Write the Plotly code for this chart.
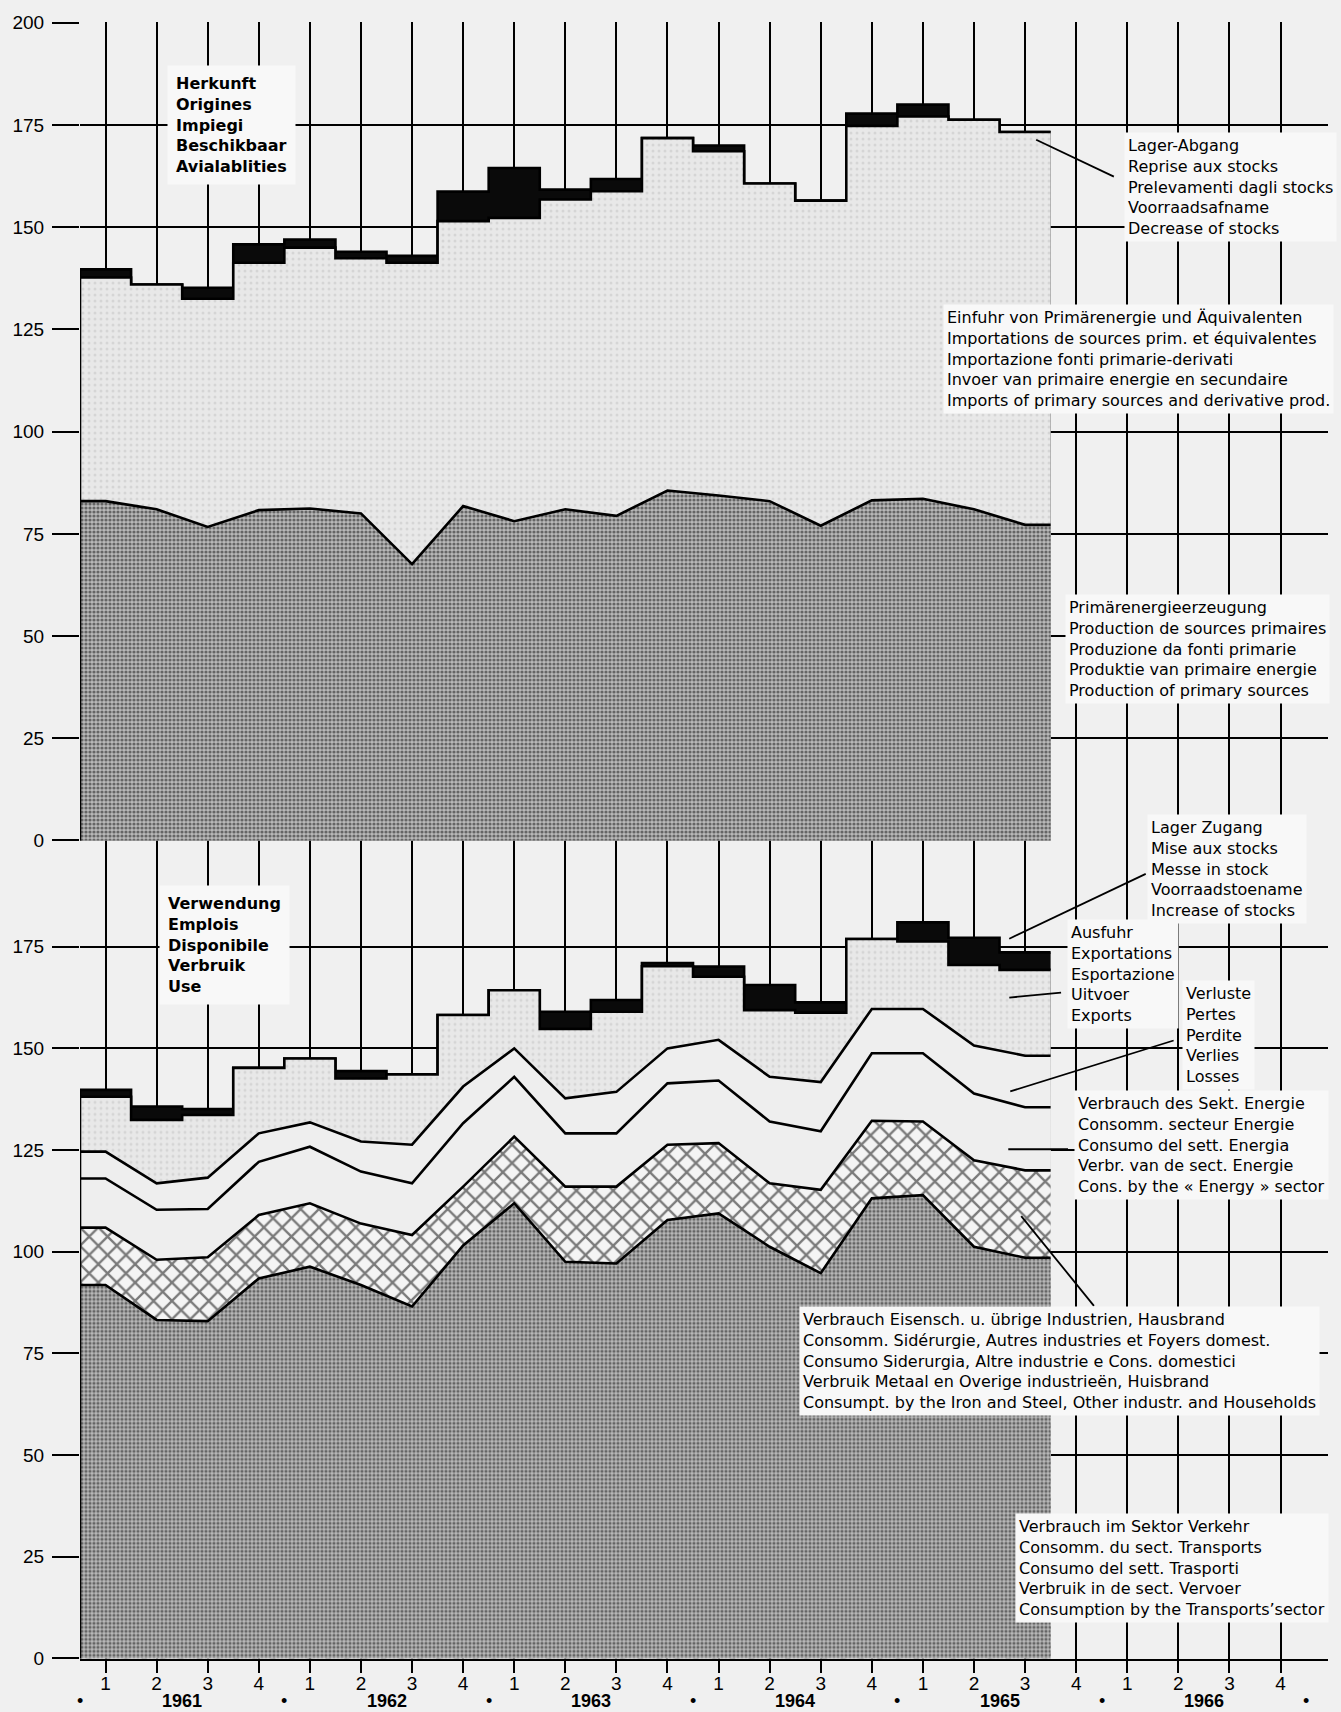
import numpy as np
import plotly.graph_objects as go

# ---------------- data (per quarter, 1961 Q1 .. 1965 Q3) ----------------
quarters = [f"{y} Q{q}" for y in range(1961, 1966) for q in range(1, 5)][:19]

# Top panel: Herkunft / Availabilities
production = [83.0, 81.0, 76.7, 80.8, 81.2, 80.0, 67.6, 81.8, 78.1, 81.0,
              79.4, 85.6, 84.4, 83.0, 77.0, 83.2, 83.6, 81.0, 77.2]
imports = [54.7, 55.0, 55.8, 60.5, 63.8, 62.4, 73.7, 69.7, 74.2, 75.8,
           79.4, 86.2, 84.2, 77.7, 79.5, 91.6, 93.5, 95.3, 96.1]
stock_decrease = [2.0, 0.0, 2.7, 4.5, 2.0, 1.6, 1.7, 7.2, 12.2, 2.4,
                  3.0, 0.0, 1.4, 0.0, 0.0, 3.0, 2.9, 0.0, 0.0]

# Bottom panel: Verwendung / Use
transport = [91.8, 83.2, 82.9, 93.4, 96.3, 91.8, 86.5, 101.5, 111.9, 97.5,
             97.1, 107.8, 109.4, 101.2, 94.7, 113.1, 113.9, 101.2, 98.5]
industry = [14.1, 14.8, 15.7, 15.6, 15.6, 15.1, 17.6, 14.5, 16.4, 18.5,
            18.9, 18.5, 17.3, 15.6, 20.5, 19.1, 18.1, 21.3, 21.5]
energy_sector = [12.1, 12.3, 11.9, 13.1, 13.9, 12.8, 12.7, 15.6, 14.7, 13.1,
                 13.1, 15.1, 15.4, 15.2, 14.4, 16.6, 16.8, 16.4, 15.5]
losses = [6.6, 6.5, 7.7, 7.0, 6.0, 7.4, 9.5, 9.0, 7.0, 8.6,
          10.2, 8.6, 10.0, 11.0, 12.1, 10.9, 10.9, 11.8, 12.7]
exports = [13.5, 15.6, 15.4, 16.1, 15.7, 15.5, 17.3, 17.6, 14.3, 17.1,
           19.7, 20.2, 15.5, 16.4, 17.1, 17.2, 16.6, 19.8, 21.1]
stock_increase = [1.7, 3.3, 1.5, 0.0, 0.0, 1.8, 0.0, 0.0, 0.0, 4.2,
                  2.9, 0.8, 2.5, 6.2, 2.5, 0.0, 4.7, 6.7, 4.3]

quarter_ticks = ["1", "2", "3", "4"] * 6
years = ["1961", "1962", "1963", "1964", "1965", "1966"]
y_ticks = [0, 25, 50, 75, 100, 125, 150, 175, 200]

# ---------------- geometry helpers ----------------
W, H = 1341, 1712
L, R, T, B = 75, 13, 18, 53
PW, PH = W - L - R, H - T - B
Y_SPLIT = 839.3                      # pixel row where the two panels meet
dom_split = (H - B - Y_SPLIT) / PH
bottom_top = -0.2 + (H - B - Y_SPLIT) / ((H - B - 0.8 - 945) / 175.0)


def px(x):
    return (x - L) / PW


def py(y):
    return (H - B - y) / PH


n = len(quarters)
centres = [i + 0.5 for i in range(n)]


def line_path(vals):
    xs = [0, 0] + centres + [n]
    ys = [0, vals[0]] + list(vals) + [vals[-1]]
    return xs, ys


def step_path(vals):
    xs = [0] + list(range(n + 1))
    ys = [0] + list(vals) + [vals[-1]]
    return xs, ys


BG = "#f0f0f0"
BOX = "#f8f8f8"
LW = 2.6
dark_pat = dict(shape=".", bgcolor="#b8b8b8", fgcolor="#111111", size=4, solidity=0.5)
light_pat = dict(shape=".", bgcolor="#e8e8e8", fgcolor="#c2c2c2", size=6, solidity=0.2)
cross_pat = dict(shape="x", bgcolor="#f4f4f4", fgcolor="#000000", size=13, solidity=0.32)

fig = go.Figure()


def add(xs, ys, shape, yaxis, xaxis, fillcolor=None, pattern=None):
    kw = dict(x=xs, y=ys, mode="lines", line=dict(color="black", width=LW, shape=shape),
              fill="tozeroy", xaxis=xaxis, yaxis=yaxis, showlegend=False, hoverinfo="skip")
    if pattern is not None:
        kw["fillpattern"] = pattern
        kw["fillcolor"] = pattern["bgcolor"]
    else:
        kw["fillcolor"] = fillcolor
    fig.add_trace(go.Scatter(**kw))


# ---- top panel ----
prod = np.array(production)
lvl_imp = prod + np.array(imports)
lvl_tot = lvl_imp + np.array(stock_decrease)
add(*step_path(lvl_tot), "hv", "y2", "x2", fillcolor="#0a0a0a")
add(*step_path(lvl_imp), "hv", "y2", "x2", pattern=light_pat)
add(*line_path(prod), "linear", "y2", "x2", pattern=dark_pat)

# ---- bottom panel ----
c1 = np.array(transport)
c2 = c1 + np.array(industry)
c3 = c2 + np.array(energy_sector)
c4 = c3 + np.array(losses)
c5 = c4 + np.array(exports)
c6 = c5 + np.array(stock_increase)
add(*step_path(c6), "hv", "y", "x", fillcolor="#0a0a0a")
add(*step_path(c5), "hv", "y", "x", pattern=light_pat)
add(*line_path(c4), "linear", "y", "x", fillcolor="#eeeeee")
add(*line_path(c3), "linear", "y", "x", fillcolor="#eeeeee")
add(*line_path(c2), "linear", "y", "x", pattern=cross_pat)
add(*line_path(c1), "linear", "y", "x", pattern=dark_pat)

# ---------------- axes ----------------
tickfont = dict(family="Liberation Sans", size=19, color="black")
all_centres = [i + 0.5 for i in range(24)]
common_x = dict(range=[0, PW / 51.29], tickvals=all_centres, showgrid=True, gridcolor="black",
                gridwidth=1.8, zeroline=False)
common_y = dict(tickvals=y_ticks, showgrid=True, gridcolor="black", gridwidth=1.8, zeroline=False,
                ticks="outside", ticklen=27, tickwidth=1.8, tickcolor="black", tickfont=tickfont,
                ticklabelstandoff=4)

fig.update_layout(
    width=W, height=H, margin=dict(l=L, r=R, t=T, b=B),
    paper_bgcolor=BG, plot_bgcolor=BG, showlegend=False,
    xaxis=dict(domain=[0, 1], anchor="y", ticktext=quarter_ticks, ticks="outside", ticklen=12,
               tickwidth=2, tickcolor="black", tickfont=tickfont, ticklabelstandoff=-6,
               showline=True, linecolor="black", linewidth=2, **common_x),
    xaxis2=dict(domain=[0, 1], anchor="y2", matches="x", showticklabels=False, ticks="", **common_x),
    yaxis=dict(domain=[0, dom_split], range=[-0.2, bottom_top],
               **{**common_y, "tickvals": y_ticks[:-1]}),
    yaxis2=dict(domain=[dom_split, 1], range=[-0.2, 200.2], **common_y),
)

# ---------------- labels ----------------
blocks = [
    (["Herkunft", "Origines", "Impiegi", "Beschikbaar", "Avialablities"], 171, 121.0, True),
    (["Lager-Abgang", "Reprise aux stocks", "Prelevamenti dagli stocks", "Voorraadsafname",
      "Decrease of stocks"], 1127, 183, False),
    (["Einfuhr von Primärenergie und Äquivalenten", "Importations de sources prim. et équivalentes",
      "Importazione fonti primarie-derivati", "Invoer van primaire energie en secundaire",
      "Imports of primary sources and derivative prod."], 945, 356, False),
    (["Primärenergieerzeugung", "Production de sources primaires", "Produzione da fonti primarie",
      "Produktie van primaire energie", "Production of primary sources"], 1068, 646.5, False),
    (["Verwendung", "Emplois", "Disponibile", "Verbruik", "Use"], 163, 943, True),
    (["Lager Zugang", "Mise aux stocks", "Messe in stock", "Voorraadstoename", "Increase of stocks"],
     1150, 867, False),
    (["Ausfuhr", "Exportations", "Esportazione", "Uitvoer", "Exports"], 1070, 972, False),
    (["Verluste", "Pertes", "Perdite", "Verlies", "Losses"], 1185, 1033.5, False),
    (["Verbrauch des Sekt. Energie", "Consomm. secteur Energie", "Consumo del sett. Energia",
      "Verbr. van de sect. Energie", "Cons. by the « Energy » sector"], 1077, 1143.3, False),
    (["Verbrauch Eisensch. u. übrige Industrien, Hausbrand",
      "Consomm. Sidérurgie, Autres industries et Foyers domest.",
      "Consumo Siderurgia, Altre industrie e Cons. domestici",
      "Verbruik Metaal en Overige industrieën, Huisbrand",
      "Consumpt. by the Iron and Steel, Other industr. and Households"], 801, 1360, False),
    (["Verbrauch im Sektor Verkehr", "Consomm. du sect. Transports", "Consumo del sett. Trasporti",
      "Verbruik in de sect. Vervoer", "Consumption by the Transports’sector"], 1017.5, 1567.3, False),
]

annotations = []
for lines, xl, ym, bold in blocks:
    pad = 8 if bold else 3
    annotations.append(dict(
        text="<br>".join(lines), x=px(xl - pad - 1), y=py(ym), xref="paper", yref="paper",
        xanchor="left", yanchor="middle", align="left", showarrow=False,
        bgcolor=BOX, borderpad=pad,
        font=dict(family="DejaVu Sans", size=16, color="black", weight="bold" if bold else "normal")))

for k, yr in enumerate(years):
    annotations.append(dict(text=yr, x=4 * k + 2, y=py(1711.5), xref="x", yref="paper",
                            xanchor="center", yanchor="bottom", showarrow=False,
                            borderpad=0, borderwidth=0,
                            font=dict(family="Liberation Sans", size=18, color="black", weight="bold")))
for k in range(len(years) + 1):
    annotations.append(dict(text="•", x=4 * k, y=py(1711.5), xref="x", yref="paper",
                            xanchor="center", yanchor="bottom", showarrow=False,
                            borderpad=0, borderwidth=0,
                            font=dict(family="Liberation Sans", size=18, color="black")))

pointers = [
    ((1035, 136), (1113, 173)),
    ((1145, 872), (1008, 937)),
    ((1060, 991), (1008, 996)),
    ((1173, 1039), (1009, 1090)),
    ((1067, 1148), (1007, 1148)),
    ((1093, 1305), (1020, 1215)),
]
shapes = [dict(type="line", xref="paper", yref="paper", x0=px(a[0]), y0=py(a[1]), x1=px(b[0]),
               y1=py(b[1]), line=dict(color="black", width=1.8), layer="above")
          for a, b in pointers]

fig.update_layout(annotations=annotations, shapes=shapes)
fig.write_html("out.html", config={"displayModeBar": False},
               post_script="document.body.style.margin='0';document.body.style.overflow='hidden';")
